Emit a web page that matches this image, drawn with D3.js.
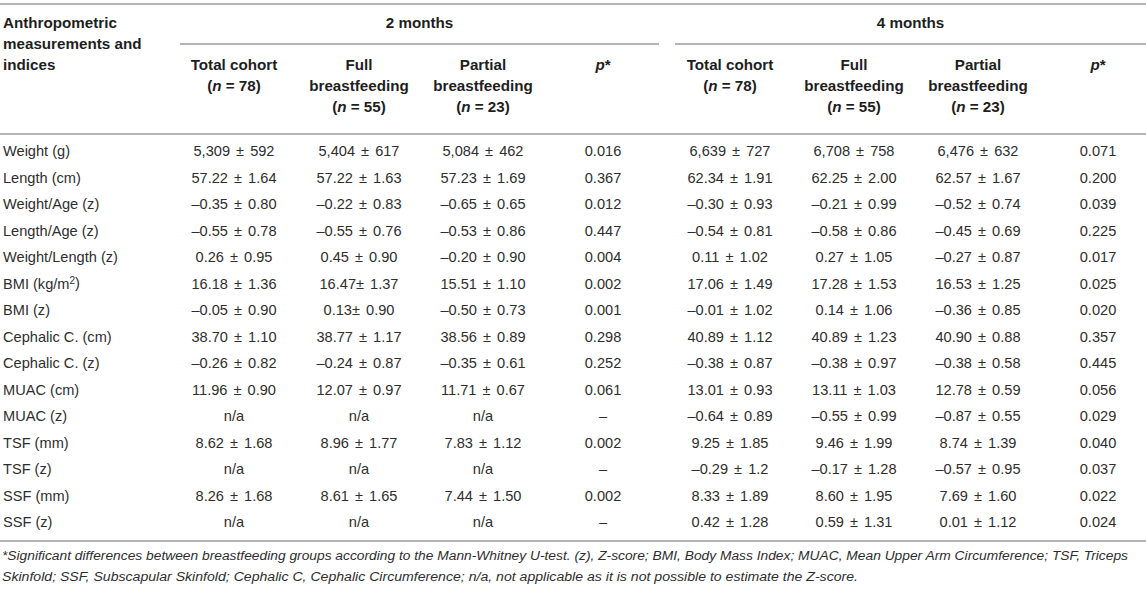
<!DOCTYPE html>
<html>
<head>
<meta charset="utf-8">
<script src="https://cdn.jsdelivr.net/npm/d3@7"></script>
<style>
  html, body { margin: 0; padding: 0; background: #fff; }
  svg { display: block; font-family: "Liberation Sans", Arial, Helvetica, sans-serif; }
</style>
</head>
<body>
<div id="table"></div>
<script>
// tabela antropometrica 2 e 4 meses, desenhada em svg
const measures = [
  "Weight (g)", "Length (cm)", "Weight/Age (z)", "Length/Age (z)", "Weight/Length (z)",
  "BMI (kg/m2)", "BMI (z)", "Cephalic C. (cm)", "Cephalic C. (z)", "MUAC (cm)",
  "MUAC (z)", "TSF (mm)", "TSF (z)", "SSF (mm)", "SSF (z)",
];
const total2 = ["5,309 ± 592", "57.22 ± 1.64", "–0.35 ± 0.80", "–0.55 ± 0.78", "0.26 ± 0.95", "16.18 ± 1.36", "–0.05 ± 0.90", "38.70 ± 1.10", "–0.26 ± 0.82", "11.96 ± 0.90", "n/a", "8.62 ± 1.68", "n/a", "8.26 ± 1.68", "n/a"];
const full2 = ["5,404 ± 617", "57.22 ± 1.63", "–0.22 ± 0.83", "–0.55 ± 0.76", "0.45 ± 0.90", "16.47± 1.37", "0.13± 0.90", "38.77 ± 1.17", "–0.24 ± 0.87", "12.07 ± 0.97", "n/a", "8.96 ± 1.77", "n/a", "8.61 ± 1.65", "n/a"];
const partial2 = ["5,084 ± 462", "57.23 ± 1.69", "–0.65 ± 0.65", "–0.53 ± 0.86", "–0.20 ± 0.90", "15.51 ± 1.10", "–0.50 ± 0.73", "38.56 ± 0.89", "–0.35 ± 0.61", "11.71 ± 0.67", "n/a", "7.83 ± 1.12", "n/a", "7.44 ± 1.50", "n/a"];
const p2 = ["0.016", "0.367", "0.012", "0.447", "0.004", "0.002", "0.001", "0.298", "0.252", "0.061", "–", "0.002", "–", "0.002", "–"];
const total4 = ["6,639 ± 727", "62.34 ± 1.91", "–0.30 ± 0.93", "–0.54 ± 0.81", "0.11 ± 1.02", "17.06 ± 1.49", "–0.01 ± 1.02", "40.89 ± 1.12", "–0.38 ± 0.87", "13.01 ± 0.93", "–0.64 ± 0.89", "9.25 ± 1.85", "–0.29 ± 1.2", "8.33 ± 1.89", "0.42 ± 1.28"];
const full4 = ["6,708 ± 758", "62.25 ± 2.00", "–0.21 ± 0.99", "–0.58 ± 0.86", "0.27 ± 1.05", "17.28 ± 1.53", "0.14 ± 1.06", "40.89 ± 1.23", "–0.38 ± 0.97", "13.11 ± 1.03", "–0.55 ± 0.99", "9.46 ± 1.99", "–0.17 ± 1.28", "8.60 ± 1.95", "0.59 ± 1.31"];
const partial4 = ["6,476 ± 632", "62.57 ± 1.67", "–0.52 ± 0.74", "–0.45 ± 0.69", "–0.27 ± 0.87", "16.53 ± 1.25", "–0.36 ± 0.85", "40.90 ± 0.88", "–0.38 ± 0.58", "12.78 ± 0.59", "–0.87 ± 0.55", "8.74 ± 1.39", "–0.57 ± 0.95", "7.69 ± 1.60", "0.01 ± 1.12"];
const p4 = ["0.071", "0.200", "0.039", "0.225", "0.017", "0.025", "0.020", "0.357", "0.445", "0.056", "0.029", "0.040", "0.037", "0.022", "0.024"];

const groups = ["2 months", "4 months"];
const subHeads = [
  { lines: ["Total cohort"], n: "78" },
  { lines: ["Full", "breastfeeding"], n: "55" },
  { lines: ["Partial", "breastfeeding"], n: "23" },
  { lines: [], p: true },
];
const footnotes = [
  "*Significant differences between breastfeeding groups according to the Mann-Whitney U-test. (z), Z-score; BMI, Body Mass Index; MUAC, Mean Upper Arm Circumference; TSF, Triceps",
  "Skinfold; SSF, Subscapular Skinfold; Cephalic C, Cephalic Circumference; n/a, not applicable as it is not possible to estimate the Z-score.",
];

const d3 = window.d3;
const W = 1146, H = 591;
const HEAD = "#1e1e1e";
const TXT = "#2e2e2e";
const RULE = "#b4b4b4";

const columns = [total2, full2, partial2, p2, total4, full4, partial4, p4];
// centros das colunas (px)
const colX = [234, 359, 483, 603, 730, 854, 978, 1098];
const groupSpan = [[180, 659], [675, W]];
const footWidth = [1126, 856];

const svg = d3.select("#table").append("svg").attr("width", W).attr("height", H);

const y = d3.scalePoint().domain(measures).range([151, 522]);

// linhas horizontais
const rule = (x1, x2, yy) =>
  svg.append("line").attr("x1", x1).attr("x2", x2).attr("y1", yy).attr("y2", yy)
    .attr("stroke", RULE).attr("stroke-width", 1.8);
rule(0, W, 4);
groupSpan.forEach(([a, b]) => rule(a, b, 44));
rule(0, W, 134);
rule(0, W, 541);

const head = svg.append("g").attr("font-weight", "bold").attr("font-size", 15.2).attr("fill", HEAD);

// cabecalho da primeira coluna
["Anthropometric", "measurements and", "indices"].forEach((t, i) => {
  head.append("text").attr("x", 3).attr("y", 23 + i * 21).attr("dy", "0.35em").text(t);
});

// grupos 2/4 meses
head.selectAll("text.grp").data(groups).join("text")
  .attr("class", "grp")
  .attr("x", (d, i) => (groupSpan[i][0] + groupSpan[i][1]) / 2)
  .attr("y", 23).attr("dy", "0.35em").attr("text-anchor", "middle")
  .text((d) => d);

// sub-cabecalhos
groups.forEach((g, gi) => {
  subHeads.forEach((s, si) => {
    const cx = colX[gi * 4 + si];
    if (s.p) {
      const t = head.append("text").attr("x", cx).attr("y", 65).attr("dy", "0.35em").attr("text-anchor", "middle");
      t.append("tspan").attr("font-style", "italic").text("p");
      t.append("tspan").text("*");
      return;
    }
    s.lines.forEach((l, li) => {
      head.append("text").attr("x", cx).attr("y", 65 + li * 21).attr("dy", "0.35em")
        .attr("text-anchor", "middle").text(l);
    });
    const t = head.append("text").attr("x", cx).attr("y", 65 + s.lines.length * 21).attr("dy", "0.35em")
      .attr("text-anchor", "middle");
    t.append("tspan").text("(");
    t.append("tspan").attr("font-style", "italic").text("n");
    t.append("tspan").text(` = ${s.n})`);
  });
});

// corpo
const body = svg.append("g").attr("font-size", 14.6).attr("fill", TXT);

body.selectAll("text.lab").data(measures).join("text")
  .attr("class", "lab")
  .attr("x", 3).attr("y", (d) => y(d)).attr("dy", "0.35em")
  .each(function (d) {
    const t = d3.select(this);
    if (d === "BMI (kg/m2)") {
      t.append("tspan").text("BMI (kg/m");
      t.append("tspan").attr("font-size", 10).attr("dy", "-0.45em").text("2");
      t.append("tspan").attr("dy", "0.3em").text(")");
    } else {
      t.text(d);
    }
  });

columns.forEach((col, ci) => {
  body.selectAll(`text.c${ci}`).data(col).join("text")
    .attr("class", `c${ci}`)
    .attr("x", colX[ci])
    .attr("y", (d, i) => y(measures[i]))
    .attr("dy", "0.35em")
    .attr("text-anchor", "middle")
    .attr("word-spacing", 2)
    .text((d) => d);
});

// nota de rodape
svg.append("g").attr("font-size", 12.5).attr("font-style", "italic").attr("fill", TXT)
  .selectAll("text").data(footnotes).join("text")
  .attr("x", 2).attr("y", (d, i) => 556 + i * 21).attr("dy", "0.35em")
  .attr("textLength", (d, i) => footWidth[i])
  .attr("lengthAdjust", "spacingAndGlyphs")
  .text((d) => d);
</script>
</body>
</html>
